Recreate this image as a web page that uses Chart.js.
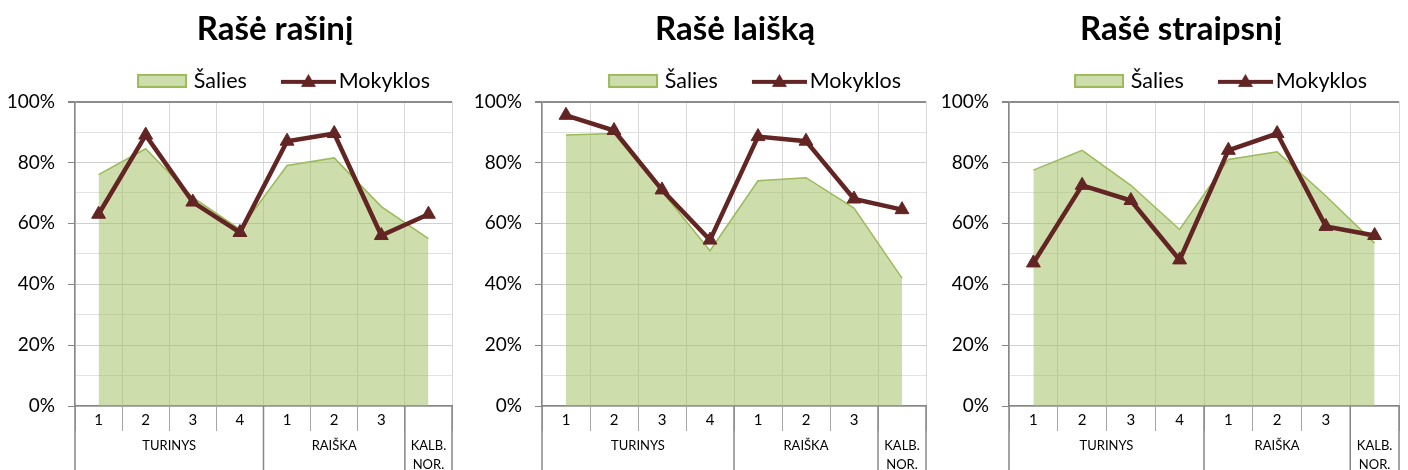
<!DOCTYPE html>
<html>
<head>
<meta charset="utf-8">
<script src="https://cdn.jsdelivr.net/npm/chart.js@4.4.0/dist/chart.umd.min.js"></script>
<style>
    html, body { margin: 0; padding: 0; background: #fff; }
    .panel { position: absolute; top: 0; height: 470px; }
</style>
</head>
<body>
<div class="panel" style="left:0px"><canvas id="chartRasinys" width="469" height="470"></canvas></div>
<div class="panel" style="left:470px"><canvas id="chartLaiskas" width="468" height="470"></canvas></div>
<div class="panel" style="left:938px"><canvas id="chartStraipsnis" width="470" height="470"></canvas></div>
<script>
// duomenys
const categories = ['1', '2', '3', '4', '1', '2', '3', ''];
const groupLabels = ['TURINYS', 'RAIŠKA', ['KALB.', 'NOR.']];
const groupSizes = [4, 3, 1];
const seriesNames = ['Šalies', 'Mokyklos'];
const titles = ['Rašė rašinį', 'Rašė laišką', 'Rašė straipsnį'];

const rasinysSalies = [76, 84.5, 68.5, 58, 79, 81.5, 65.5, 55];
const rasinysMokyklos = [63, 89, 67, 57, 87, 89.5, 56, 63];
const laiskasSalies = [89, 89.5, 70.5, 51, 74, 75, 65, 42];
const laiskasMokyklos = [95.5, 90.5, 71, 54.5, 88.5, 87, 68, 64.5];
const straipsnisSalies = [77.5, 84, 72.5, 58, 81, 83.5, 69, 53.5];
const straipsnisMokyklos = [47, 72.5, 67.5, 48, 84, 89.5, 59, 56];

const yMin = 0, yMax = 100, yStep = 10, yLabelStep = 20;

const GREEN = '#9bbb59';
const GREEN_FILL = 'rgba(155, 187, 89, 0.5)';
const MAROON = '#632523';
const AXIS = '#868686';

Chart.defaults.font.family = 'Lato';
Chart.defaults.color = '#000';

// legendos simboliai
function legendaPlotas() {
    const c = document.createElement('canvas');
    c.width = 79; c.height = 14;
    const g = c.getContext('2d');
    g.fillStyle = GREEN_FILL;
    g.fillRect(30, 1, 48, 12);
    g.strokeStyle = GREEN; g.lineWidth = 2;
    g.strokeRect(30, 1, 48, 12);
    return c;
}

function legendaLinija() {
    const c = document.createElement('canvas');
    c.width = 87; c.height = 16;
    const g = c.getContext('2d');
    g.strokeStyle = MAROON; g.lineWidth = 4;
    g.beginPath(); g.moveTo(32, 9); g.lineTo(87, 9); g.stroke();
    g.fillStyle = MAROON;
    g.beginPath(); g.moveTo(59.5, 1); g.lineTo(67, 14); g.lineTo(52, 14); g.closePath(); g.fill();
    return c;
}

const legendImgs = [legendaPlotas(), legendaLinija()];

// title / legend centre shift (excel places them on its own)
const headerShift = {
    id: 'headerShift',
    afterLayout(chart, args, opts) {
        const t = chart.titleBlock, l = chart.legend;
        if (t && opts.titleX != null) {
            const dx = opts.titleX - (t.left + t.right) / 2;
            t.left += dx; t.right += dx;
        }
        if (l && opts.legendX != null) {
            const dx = opts.legendX - (l.left + l.right) / 2;
            l.left += dx; l.right += dx;
        }
    }
};

// antras kategorijų lygis
const groupAxis = {
    id: 'groupAxis',
    afterDraw(chart) {
        const x = chart.scales.x;
        const ctx = chart.ctx;
        const step = (x.right - x.left) / categories.length;
        ctx.save();
        ctx.strokeStyle = AXIS;
        ctx.lineWidth = 1.5;
        ctx.fillStyle = '#000';
        ctx.font = '13px Lato';
        ctx.textAlign = 'center';
        ctx.textBaseline = 'middle';
        let start = 0;
        groupSizes.forEach((size, i) => {
            const left = x.getPixelForValue(start) - step / 2;
            const right = x.getPixelForValue(start + size - 1) + step / 2;
            ctx.beginPath();
            ctx.moveTo(left, x.top); ctx.lineTo(left, chart.height);
            if (i === groupSizes.length - 1) { ctx.moveTo(right, x.top); ctx.lineTo(right, chart.height); }
            ctx.stroke();
            [].concat(groupLabels[i]).forEach((txt, k) => {
                ctx.fillText(txt, (left + right) / 2, x.top + 40 + k * 19);
            });
            start += size;
        });
        ctx.restore();
    }
};

function piesti(id, title, salies, mokyklos, lay) {
    const data = {
        labels: categories,
        datasets: [{
            label: seriesNames[0],
            data: salies,
            fill: 'origin',
            backgroundColor: GREEN_FILL,
            borderColor: GREEN,
            borderWidth: 1.5,
            pointRadius: 0,
            order: 2
        }, {
            label: seriesNames[1],
            data: mokyklos,
            fill: false,
            borderColor: MAROON,
            borderWidth: 4.5,
            pointStyle: 'triangle',
            pointRadius: 8,
            pointBackgroundColor: MAROON,
            pointBorderColor: MAROON,
            pointBorderWidth: 1,
            order: 1
        }]
    };

    const config = {
        type: 'line',
        data,
        options: {
            responsive: false,
            animation: false,
            layout: { padding: { left: 0, right: lay.right, top: 0, bottom: 0 } },
            scales: {
                x: {
                    offset: true,
                    grid: {
                        offset: true,
                        color: (c) => c.index === categories.length ? '#8c8c8c' : '#d9d9d9',
                        lineWidth: (c) => c.index === categories.length ? 2 : 1,
                        tickLength: 25,
                        tickColor: '#a6a6a6'
                    },
                    border: { color: AXIS, width: 1.5 },
                    ticks: {
                        autoSkip: false,
                        maxRotation: 0,
                        padding: -20,
                        font: { size: 15 }
                    },
                    afterFit: (s) => { s.height = 64; }
                },
                y: {
                    min: yMin,
                    max: yMax,
                    grid: {
                        color: (c) => c.tick.value === yMax ? '#8c8c8c' : (c.tick.value % yLabelStep === 0 ? '#d0d0d0' : '#e2e2e2'),
                        lineWidth: (c) => c.tick.value === yMax ? 2 : 1,
                        tickLength: 7,
                        tickColor: (c) => c.tick.value % yLabelStep === 0 ? AXIS : 'rgba(0,0,0,0)'
                    },
                    border: { color: AXIS, width: 1.5 },
                    ticks: {
                        stepSize: yStep,
                        padding: 13,
                        font: { size: 19 },
                        callback: (v) => v % yLabelStep === 0 ? v + '%' : ''
                    },
                    afterFit: (s) => { s.width = lay.axisW; }
                }
            },
            plugins: {
                title: {
                    display: true,
                    text: title,
                    color: '#000',
                    font: { size: 33, weight: 'bold' },
                    padding: { top: 10, bottom: 10.5 }
                },
                legend: {
                    position: 'top',
                    labels: {
                        usePointStyle: true,
                        pointStyleWidth: 71,
                        padding: 10,
                        font: { size: 21.5 },
                        color: '#000',
                        generateLabels: (chart) => chart.data.datasets.map((ds, i) => ({
                            text: ds.label,
                            pointStyle: legendImgs[i],
                            fillStyle: 'rgba(0,0,0,0)',
                            strokeStyle: 'rgba(0,0,0,0)',
                            lineWidth: 0,
                            hidden: false,
                            datasetIndex: i
                        })),
                        sort: (a, b) => a.datasetIndex - b.datasetIndex
                    }
                },
                tooltip: { enabled: false },
                headerShift: { titleX: lay.titleX, legendX: lay.legendX }
            }
        },
        plugins: [headerShift, groupAxis]
    };

    return new Chart(document.getElementById(id), config);
}

document.addEventListener('DOMContentLoaded', () => {
    piesti('chartRasinys', titles[0], rasinysSalies, rasinysMokyklos, { axisW: 75, right: 17, titleX: 275, legendX: 271 });
    piesti('chartLaiskas', titles[1], laiskasSalies, laiskasMokyklos, { axisW: 72, right: 12, titleX: 265, legendX: 272 });
    piesti('chartStraipsnis', titles[2], straipsnisSalies, straipsnisMokyklos, { axisW: 71, right: 9, titleX: 243, legendX: 270 });
});
</script>
</body>
</html>
